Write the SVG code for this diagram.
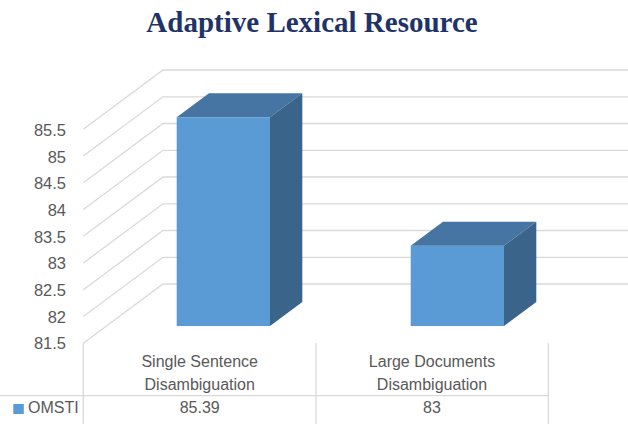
<svg xmlns="http://www.w3.org/2000/svg" width="628" height="424" viewBox="0 0 628 424">
<style>
.grid{stroke:#D9D9D9;stroke-width:1.3;fill:none}
.tbl{stroke:#D9D9D9;stroke-width:1.3;fill:none}
.ax{font-family:"Liberation Sans",Arial,sans-serif;font-size:16.5px;fill:#595959;text-anchor:end}
.cat{font-family:"Liberation Sans",Arial,sans-serif;font-size:16px;fill:#595959;text-anchor:middle}
.front{fill:#5B9BD5}
.top{fill:#4675A4}
.side{fill:#3A6489}
.title{font-family:"Liberation Serif","Times New Roman",serif;font-weight:bold;font-size:29px;fill:#1F3368;text-anchor:middle}
</style>
<rect width="628" height="424" fill="#FFFFFF"/>
<text class="title" x="312" y="32">Adaptive Lexical Resource</text>
<g id="gridlines">
<path class="grid" d="M83.3,343.3 L163,284 H628 M83.3,316.5 L163,257.3 H628 M83.3,289.8 L163,230.5 H628 M83.3,263 L163,203.8 H628 M83.3,236.3 L163,177 H628 M83.3,209.5 L163,150.3 H628 M83.3,182.8 L163,123.5 H628 M83.3,156 L163,96.8 H628 M83.3,129.3 L163,70 H628"/>
</g>
<g id="axis-labels">
<text class="ax" x="66" y="136">85.5</text>
<text class="ax" x="66" y="162.7">85</text>
<text class="ax" x="66" y="189.4">84.5</text>
<text class="ax" x="66" y="216.1">84</text>
<text class="ax" x="66" y="242.7">83.5</text>
<text class="ax" x="66" y="269.4">83</text>
<text class="ax" x="66" y="296.1">82.5</text>
<text class="ax" x="66" y="322.7">82</text>
<text class="ax" x="66" y="349.4">81.5</text>
</g>
<g id="bar-single">
<rect class="front" x="176.7" y="117.3" width="93.3" height="208.7"/>
<polygon class="top" points="176.7,117.3 209,93.3 302.3,93.3 270,117.3"/>
<polygon class="side" points="270,117.3 302.3,93.3 302.3,302 270,326"/>
</g>
<g id="bar-large">
<rect class="front" x="410.7" y="245.7" width="93.3" height="80.3"/>
<polygon class="top" points="410.7,245.7 443,221.7 536.3,221.7 504,245.7"/>
<polygon class="side" points="504,245.7 536.3,221.7 536.3,302 504,326"/>
</g>
<g id="data-table">
<path class="tbl" d="M83.3,343 V424 M316,343 V424 M548.3,343 V424 M0,395.7 H548.3"/>
<text class="cat" x="199.7" y="367">Single Sentence</text>
<text class="cat" x="199.7" y="390">Disambiguation</text>
<text class="cat" x="432" y="367">Large Documents</text>
<text class="cat" x="432" y="390">Disambiguation</text>
<rect x="13.3" y="404" width="10.5" height="10" fill="#5B9BD5"/>
<text class="cat" x="28" y="413.3" style="text-anchor:start">OMSTI</text>
<text class="cat" x="199.7" y="413.3">85.39</text>
<text class="cat" x="432" y="413.3">83</text>
</g>
</svg>
